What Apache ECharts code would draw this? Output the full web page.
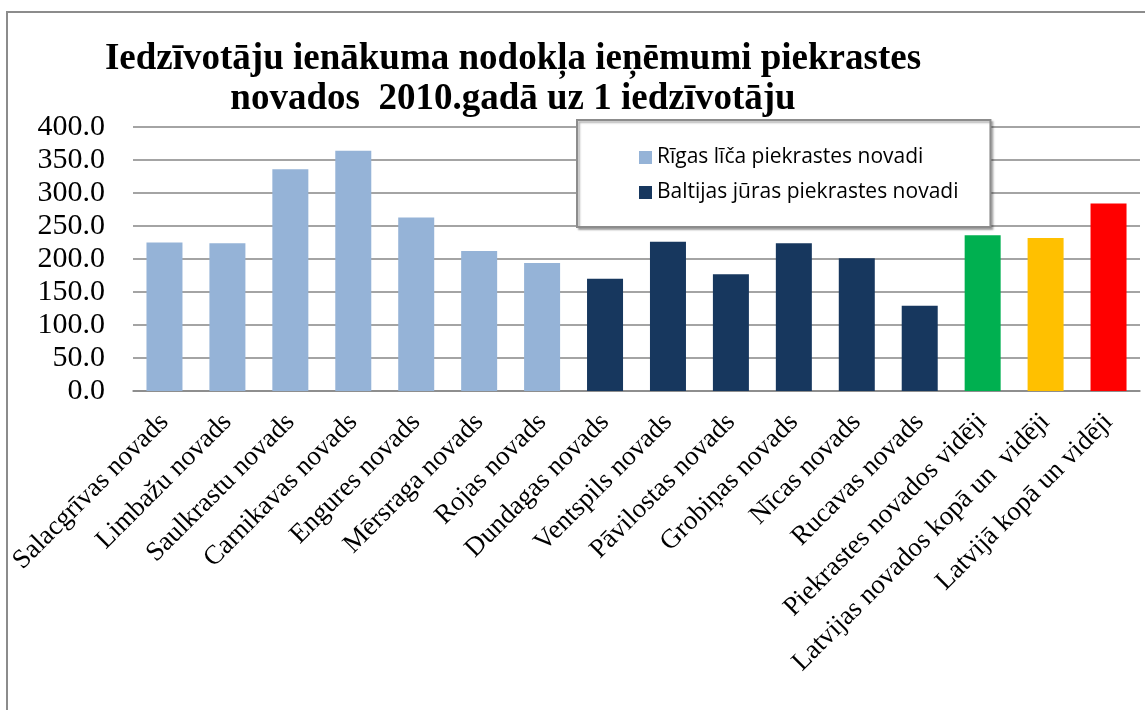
<!DOCTYPE html>
<html>
<head>
<meta charset="utf-8">
<script src="https://cdn.jsdelivr.net/npm/echarts@6/dist/echarts.min.js"></script>
<style>
  html, body { margin: 0; padding: 0; background: #fff; }
  #chart { width: 1145px; height: 710px; }
</style>
</head>
<body>
<div id="chart"></div>
<script>
// categories (novadi)
var categories = [
  'Salacgrīvas novads', 'Limbažu novads', 'Saulkrastu novads', 'Carnikavas novads',
  'Engures novads', 'Mērsraga novads', 'Rojas novads', 'Dundagas novads',
  'Ventspils novads', 'Pāvilostas novads', 'Grobiņas novads', 'Nīcas novads',
  'Rucavas novads', 'Piekrastes novados vidēji', 'Latvijas novados kopā un  vidēji',
  'Latvijā kopā un vidēji'
];
// Rīgas līča piekrastes novadi (first 7 categories)
var rigasValues = [225, 224, 336, 364, 263, 212, 194];
// Baltijas jūras piekrastes novadi (next 6 categories)
var baltijasValues = [170, 226, 177, 224, 201, 129];
// averages (last 3 categories)
var avgValues = [236, 232, 284];
var avgColors = ['#00B050', '#FFC000', '#FF0000'];
var yTicks = { min: 0, max: 400, interval: 50 };

var legendNames = ['Rīgas līča piekrastes novadi', 'Baltijas jūras piekrastes novadi'];

// pad the groups so every series spans all categories
function pad(values, before, total) {
  var out = [];
  for (var i = 0; i < total; i++) {
    var j = i - before;
    out.push(j >= 0 && j < values.length ? values[j] : '-');
  }
  return out;
}
var n = categories.length;
var rigasData = pad(rigasValues, 0, n);
var baltijasData = pad(baltijasValues, rigasValues.length, n);
var avgData = pad(avgValues, rigasValues.length + baltijasValues.length, n).map(function (v, i) {
  if (v === '-') return v;
  return { value: v, itemStyle: { color: avgColors[i - rigasValues.length - baltijasValues.length] } };
});

var chart = echarts.init(document.getElementById('chart'));
var option = {
  animation: false,
  backgroundColor: '#fff',
  graphic: [{
    type: 'rect',
    shape: { x: 7, y: 12, width: 1300, height: 900 },
    style: { fill: 'none', stroke: '#8c8c8c', lineWidth: 2 },
    silent: true
  }],
  title: {
    text: 'Iedzīvotāju ienākuma nodokļa ieņēmumi piekrastes\nnovados  2010.gadā uz 1 iedzīvotāju',
    left: 508,
    top: 34,
    textAlign: 'center',
    textStyle: {
      fontFamily: 'Liberation Serif',
      fontWeight: 'bold',
      fontSize: 37,
      lineHeight: 40,
      color: '#000'
    }
  },
  legend: {
    data: legendNames,
    orient: 'vertical',
    left: 577,
    top: 120,
    padding: [27, 32, 24, 62],
    itemGap: 14,
    itemWidth: 13,
    itemHeight: 13,
    icon: 'rect',
    borderColor: '#8c8c8c',
    borderWidth: 2,
    backgroundColor: '#fff',
    shadowColor: 'rgba(0,0,0,0.3)',
    shadowOffsetX: 2,
    shadowOffsetY: 2,
    shadowBlur: 2,
    textStyle: {
      fontFamily: 'Open Sans',
      fontSize: 21,
      color: '#000'
    }
  },
  grid: { left: 133, right: 5, top: 127, bottom: 319, containLabel: false },
  xAxis: {
    type: 'category',
    data: categories,
    axisLine: { lineStyle: { color: '#868686', width: 1.5 } },
    axisTick: { show: false },
    axisLabel: {
      interval: 0,
      rotate: 45,
      margin: 27,
      fontFamily: 'Liberation Serif',
      fontSize: 27,
      color: '#000'
    }
  },
  yAxis: {
    type: 'value',
    min: yTicks.min,
    max: yTicks.max,
    interval: yTicks.interval,
    axisLine: { show: false },
    axisTick: { show: false },
    splitLine: { lineStyle: { color: '#868686', width: 1.5 } },
    axisLabel: {
      margin: 28,
      fontFamily: 'Liberation Serif',
      fontSize: 30,
      color: '#000',
      formatter: function (v) { return v.toFixed(1); }
    }
  },
  series: [
    {
      name: legendNames[0],
      type: 'bar',
      stack: 'all',
      barWidth: 36,
      data: rigasData,
      itemStyle: { color: '#95B3D7' }
    },
    {
      name: legendNames[1],
      type: 'bar',
      stack: 'all',
      barWidth: 36,
      data: baltijasData,
      itemStyle: { color: '#17375E' }
    },
    {
      name: 'vidēji',
      type: 'bar',
      stack: 'all',
      barWidth: 36,
      data: avgData,
      itemStyle: { color: '#00B050' }
    }
  ]
};
chart.setOption(option);
</script>
</body>
</html>
